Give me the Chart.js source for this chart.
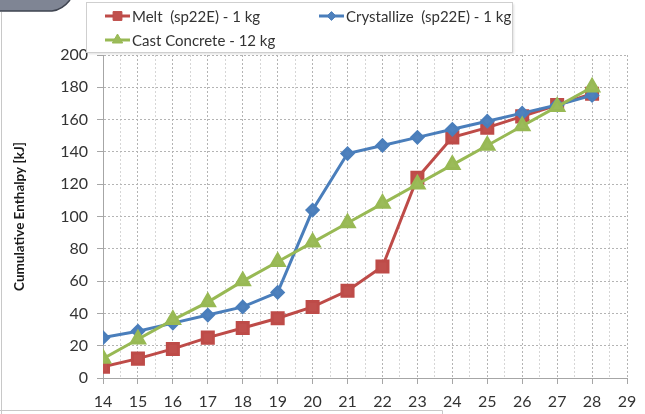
<!DOCTYPE html>
<html>
<head>
<meta charset="utf-8">
<script src="https://cdn.jsdelivr.net/npm/chart.js@4/dist/chart.umd.min.js"></script>
<style>
  html, body { margin: 0; padding: 0; background: #ffffff; }
  #wrap { width: 645px; height: 414px; }
</style>
</head>
<body>
<div id="wrap"><canvas id="c" width="645" height="414"></canvas></div>
<script>
// Temperature steps [°C] and cumulative enthalpy [kJ] per material
const temperatures = [14, 15, 16, 17, 18, 19, 20, 21, 22, 23, 24, 25, 26, 27, 28];
const meltValues = [7, 12, 18, 25, 31, 37, 44, 54, 69, 124, 149, 155, 162, 169, 176];
const crystallizeValues = [25, 29, 34, 39, 44, 53, 104, 139, 144, 149, 154, 159, 164, 169, 175];
const concreteValues = [12, 24, 36, 47, 60, 72, 84, 96, 108, 120, 132, 144, 156, 168, 180];

const seriesLabels = ['Melt  (sp22E) - 1 kg', 'Crystallize  (sp22E) - 1 kg', 'Cast Concrete - 12 kg'];
const yAxisTitle = 'Cumulative Enthalpy [kJ]';

const FONT = 'Lato, "Open Sans", sans-serif';
const TEXT = '#333333';

function pts(values) {
  return temperatures.map((t, i) => ({ x: t, y: values[i] }));
}

// Legend box with line+marker samples, drawn on the canvas
const boxLegend = {
  id: 'boxLegend',
  afterDraw(chart) {
    const ctx = chart.ctx;
    ctx.save();
    ctx.fillStyle = '#ffffff';
    ctx.strokeStyle = '#cfcfcf';
    ctx.lineWidth = 1;
    ctx.shadowColor = 'rgba(0,0,0,0.12)';
    ctx.shadowOffsetX = 1.5;
    ctx.shadowOffsetY = 1.5;
    ctx.shadowBlur = 2;
    ctx.fillRect(86.5, 2.5, 426, 50);
    ctx.shadowColor = 'transparent';
    ctx.strokeRect(86.5, 2.5, 426, 50);

    const slots = [
      { x: 105, y: 16 },
      { x: 319, y: 16 },
      { x: 105, y: 40 }
    ];
    chart.data.datasets.forEach((ds, i) => {
      const s = slots[i];
      ctx.strokeStyle = ds.borderColor;
      ctx.lineWidth = ds.borderWidth;
      ctx.beginPath();
      ctx.moveTo(s.x, s.y);
      ctx.lineTo(s.x + 25, s.y);
      ctx.stroke();
      ctx.fillStyle = ds.pointBackgroundColor;
      ctx.strokeStyle = ds.pointBorderColor;
      ctx.lineWidth = 1;
      Chart.helpers.drawPoint(ctx, {
        pointStyle: ds.pointStyle,
        radius: ds.pointRadius * 0.8,
        rotation: 0,
        borderWidth: 1
      }, s.x + 12.5, s.y);
      ctx.fillStyle = TEXT;
      ctx.font = '15px ' + FONT;
      ctx.textAlign = 'left';
      ctx.textBaseline = 'middle';
      ctx.fillText(ds.label, s.x + 27, s.y + 1);
    });
    ctx.restore();
  }
};

// Page frame around the chart
const frame = {
  id: 'frame',
  beforeDraw(chart) {
    const ctx = chart.ctx;
    ctx.save();
    ctx.fillStyle = '#ffffff';
    ctx.fillRect(0, 0, chart.width, chart.height);
    ctx.strokeStyle = '#c8c8c8';
    ctx.lineWidth = 1;
    ctx.beginPath();
    ctx.moveTo(1.5, 12);
    ctx.lineTo(1.5, 414);
    ctx.moveTo(0, 410.5);
    ctx.lineTo(442.5, 410.5);
    ctx.lineTo(442.5, 414);
    ctx.stroke();
    // dark slab at the top-left corner
    ctx.fillStyle = '#7f8594';
    ctx.strokeStyle = '#3f4450';
    ctx.lineWidth = 1.5;
    ctx.beginPath();
    ctx.moveTo(0, 0);
    ctx.lineTo(70, 0);
    ctx.quadraticCurveTo(62, 10, 52, 11);
    ctx.lineTo(0, 11);
    ctx.closePath();
    ctx.fill();
    ctx.beginPath();
    ctx.moveTo(70, 0);
    ctx.quadraticCurveTo(62, 10, 52, 11);
    ctx.lineTo(0, 11);
    ctx.stroke();
    ctx.restore();
  }
};

const isHalf = (c) => c.tick && !Number.isInteger(c.tick.value);

new Chart(document.getElementById('c'), {
  type: 'line',
  data: {
    datasets: [
      {
        label: seriesLabels[0],
        data: pts(meltValues),
        borderColor: '#BE4B48',
        backgroundColor: '#C0504D',
        pointBackgroundColor: '#C0504D',
        pointBorderColor: '#BE4B48',
        pointStyle: 'rect',
        pointRadius: 7.8,
        borderWidth: 3,
        order: 2
      },
      {
        label: seriesLabels[1],
        data: pts(crystallizeValues),
        borderColor: '#4A7EBB',
        backgroundColor: '#4F81BD',
        pointBackgroundColor: '#4F81BD',
        pointBorderColor: '#4A7EBB',
        pointStyle: 'rectRot',
        pointRadius: 5.5,
        borderWidth: 3,
        order: 1
      },
      {
        label: seriesLabels[2],
        data: pts(concreteValues),
        borderColor: '#98B954',
        backgroundColor: '#9BBB59',
        pointBackgroundColor: '#9BBB59',
        pointBorderColor: '#98B954',
        pointStyle: 'triangle',
        pointRadius: 7.5,
        borderWidth: 3,
        order: 0
      }
    ]
  },
  options: {
    responsive: false,
    animation: false,
    devicePixelRatio: 1,
    layout: { padding: { top: 55, right: 18, left: 0, bottom: 0 } },
    plugins: {
      legend: { display: false },
      tooltip: { enabled: false }
    },
    scales: {
      x: {
        type: 'linear',
        min: 14,
        max: 29,
        afterFit: (s) => { s.height = 36; },
        ticks: {
          stepSize: 0.5,
          autoSkip: false,
          maxRotation: 0,
          padding: 8,
          color: TEXT,
          font: { family: FONT, size: 16 },
          callback: (v) => (Number.isInteger(v) ? String(v) : '')
        },
        grid: {
          color: (c) => (isHalf(c) ? '#d6d6d6' : '#b4b4b4'),
          tickColor: (c) => (isHalf(c) ? 'rgba(0,0,0,0)' : '#a6a6a6'),
          tickLength: 6,
          lineWidth: 1
        },
        border: { color: '#a6a6a6', width: 1, dash: [2, 2] }
      },
      y: {
        min: 0,
        max: 200,
        afterFit: (s) => { s.width = 103; },
        ticks: {
          stepSize: 20,
          padding: 9,
          color: TEXT,
          font: { family: FONT, size: 16 }
        },
        grid: {
          color: '#b4b4b4',
          tickColor: '#a6a6a6',
          tickLength: 6,
          lineWidth: 1
        },
        border: { color: '#a6a6a6', width: 1, dash: [2, 2] },
        title: {
          display: true,
          text: yAxisTitle,
          color: '#1a1a1a',
          font: { family: FONT, size: 13.5, weight: 'bold' },
          padding: { top: 12, bottom: 0 }
        }
      }
    }
  },
  plugins: [frame, boxLegend]
});
</script>
</body>
</html>
